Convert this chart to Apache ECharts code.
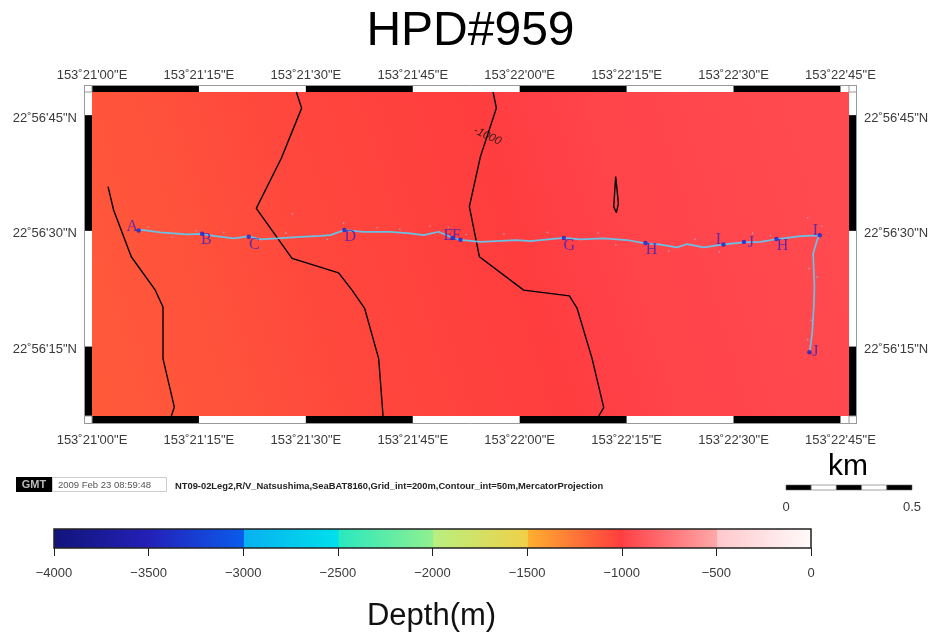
<!DOCTYPE html>
<html>
<head>
<meta charset="utf-8">
<style>html,body{margin:0;padding:0;background:#fff}#c{width:933px;height:634px}</style>
<script src="https://cdn.jsdelivr.net/npm/echarts@6/dist/echarts.min.js"></script>
</head>
<body>
<div id="c"></div>
<script>
// Axis values are arcseconds past 153deg21'00"E and 22deg56'00"N
const lonTicks = [0, 15, 30, 45, 60, 75, 90, 105];
const lonLabels = ['153˚21\'00"E','153˚21\'15"E','153˚21\'30"E','153˚21\'45"E','153˚22\'00"E','153˚22\'15"E','153˚22\'30"E','153˚22\'45"E'];
const latTicks = [15, 30, 45];
const latLabels = ['22˚56\'15"N','22˚56\'30"N','22˚56\'45"N'];
const lonBands = [[0,15],[30,45],[60,75],[90,105]];
const latBands = [[6,15],[30,45]];

const contourA = [[2.25,35.73],[3.03,32.70],[5.51,26.64],[8.88,22.31],[9.96,20.14],[9.96,13.44],[11.55,7.16],[11.13,6]];
const contourB = [[28.67,48],[29.41,45.91],[26.56,39.42],[23.05,32.92],[28.06,26.43],[34.60,24.56],[36.48,22.31],[38.25,19.94],[40.22,13.44],[40.83,6]];
const contourC = [[56.27,48],[56.73,45.91],[54.49,39.62],[52.94,33.13],[54.35,26.64],[60.56,22.31],[66.97,21.57],[68.06,19.94],[70.16,13.44],[71.79,7.08],[71.09,6]];
const contourD = [[73.47,37.03],[73.85,33.57],[73.57,32.35],[73.19,33.13],[73.47,37.03]];
const contourLabel = [[55.47,42.31,'-1000']];

const track = [[6.54,30.10],[7.24,30.10],[9.58,29.81],[13.33,29.55],[15.44,29.62],[17.06,29.36],[19.87,29.03],[21.97,29.29],[23.62,28.90],[25.96,29.03],[29.23,29.23],[32.04,29.36],[33.44,29.45],[35.40,30.10],[38.11,29.88],[41.86,29.88],[44.66,29.68],[46.53,29.45],[48.63,29.88],[50.74,29.03],[51.68,28.84],[54.49,28.58],[59.64,28.81],[61.50,28.68],[66.17,29.10],[68.52,28.90],[71.79,29.03],[75.07,28.81],[77.64,28.38],[79.28,28.29],[82.09,27.86],[83.49,28.29],[85.82,27.86],[88.63,28.25],[91.43,28.51],[93.78,28.58],[96.12,28.94],[99.39,29.32],[102.10,29.42],[101.73,28.81],[101.17,27.08],[101.35,22.74],[101.26,20.14],[101.03,16.69],[100.69,14.30]];
const trackSpecks = [[7.9,30.5],[11.2,29.2],[14.6,30.0],[18.5,29.8],[27.2,29.7],[28.1,32.2],[33.0,28.9],[35.3,31.0],[40.0,30.4],[43.2,30.2],[47.4,30.6],[50.0,30.5],[52.5,29.5],[57.8,29.6],[63.9,29.8],[71.0,29.7],[73.5,28.2],[80.9,27.4],[84.6,28.9],[88.0,27.3],[92.7,29.7],[95.2,29.4],[100.4,31.7],[102.4,30.6],[100.6,25.1],[101.7,24.0],[100.9,18.4],[100.4,15.9]];
const sampleDots = [[6.54,30.06],[15.44,29.62],[22.0,29.22],[35.4,30.1],[50.56,29.06],[51.68,28.84],[66.2,29.06],[77.64,28.42],[88.58,28.22],[91.46,28.55],[96.02,28.94],[102.1,29.42],[100.65,14.26]];
const sampleLabels = [[5.65,30.56,'A'],[16.04,28.81,'B'],[22.77,28.22,'C'],[36.25,29.26,'D'],[50.0,29.39,'E'],[51.12,29.32,'F'],[66.97,28.03,'G'],[78.48,27.57,'H'],[87.88,28.81,'I'],[92.44,28.42,'J'],[96.86,28.09,'H'],[101.49,29.97,'I'],[101.49,14.26,'J']];

const depthLon = [-8, 0, 15, 30, 45, 60, 68, 75, 90, 106, 114];
const depthVal = [-1130, -1122, -1090, -1050, -1025, -1005, -998, -985, -965, -950, -948];

// Colour palette segments of the depth scale
const cptStart = [-4000,-3500,-3000,-2500,-2000,-1500,-1000,-500];
const cptEnd   = [-3500,-3000,-2500,-2000,-1500,-1000,-500,0];
const cptFrom  = ['#12147a','#2420b8','#08b0f0','#28e8c0','#b8f080','#ffb030','#ff4046','#ffc8cc'];
const cptTo    = ['#2420b8','#0a5cec','#00e0ec','#90f090','#f0d048','#ff3c3e','#ffa8a8','#fffafa'];
const colorTicks = [-4000,-3500,-3000,-2500,-2000,-1500,-1000,-500,0];

const scaleStart = [0,0.1,0.2,0.3,0.4];
const scaleEnd   = [0.1,0.2,0.3,0.4,0.5];

const FONT = '"Liberation Sans", Arial, sans-serif';
const TXT = '#3a3a3a';

function hex(c){return [1,3,5].map(i=>parseInt(c.substr(i,2),16));}
function depthColor(d){
  let i = cptStart.findIndex((s,k)=>d>=s && d<cptEnd[k]);
  if(i<0) i = cptStart.length-1;
  const t=(d-cptStart[i])/(cptEnd[i]-cptStart[i]), a=hex(cptFrom[i]), b=hex(cptTo[i]);
  return 'rgb('+a.map((v,k)=>Math.round(v+(b[k]-v)*t)).join(',')+')';
}

const chart = echarts.init(document.getElementById('c'), null, {renderer:'canvas'});
const plain = {animation:false, silent:true};
const lineStyleBlack = {color:'#000', width:1.4};
function contour(d){return Object.assign({type:'line',data:d,symbol:'none',z:3,lineStyle:lineStyleBlack,xAxisIndex:0,yAxisIndex:0},plain);}
const latLabelStyle = {customValues:latTicks,margin:15,verticalAlign:'top',lineHeight:6,fontFamily:FONT,fontSize:13,color:TXT,formatter:v=>latLabels[latTicks.indexOf(v)]};

chart.setOption({
  animation:false,
  backgroundColor:'#fff',
  grid:[
    {left:92,top:92,width:757,height:324},
    {left:54,top:529,width:757,height:19},
    {left:786,top:485,width:126,height:5}
  ],
  xAxis:[
    {gridIndex:0,type:'value',min:0,max:106.2,position:'bottom',splitLine:{show:false},axisLine:{show:false},axisTick:{show:false},
     axisLabel:{customValues:lonTicks,margin:18,fontFamily:FONT,fontSize:13,color:TXT,formatter:v=>lonLabels[lonTicks.indexOf(v)]}},
    {gridIndex:0,type:'value',min:0,max:106.2,position:'top',splitLine:{show:false},axisLine:{show:false},axisTick:{show:false},
     axisLabel:{customValues:lonTicks,margin:10,fontFamily:FONT,fontSize:13,color:TXT,formatter:v=>lonLabels[lonTicks.indexOf(v)]}},
    {gridIndex:1,type:'value',min:-4000,max:0,interval:500,position:'bottom',splitLine:{show:false},
     axisLine:{show:false},axisTick:{show:true,length:8,lineStyle:{color:'#222',width:1}},
     axisLabel:{margin:19,fontFamily:FONT,fontSize:13,color:TXT,formatter:v=>String(v).replace('-','\u2212')}},
    {gridIndex:2,type:'value',min:0,max:0.5,position:'bottom',splitLine:{show:false},axisLine:{show:false},
     axisTick:{show:false},axisLabel:{customValues:[0,0.5],margin:11,fontFamily:FONT,fontSize:13,color:TXT,formatter:v=>String(v)}}
  ],
  yAxis:[
    {gridIndex:0,type:'value',min:6,max:48,position:'left',splitLine:{show:false},axisLine:{show:false},axisTick:{show:false},axisLabel:latLabelStyle},
    {gridIndex:0,type:'value',min:6,max:48,position:'right',splitLine:{show:false},axisLine:{show:false},axisTick:{show:false},axisLabel:latLabelStyle},
    {gridIndex:1,type:'value',min:0,max:1,show:false},
    {gridIndex:2,type:'value',min:0,max:1,show:false}
  ],
  series:[
    // depth shading of the map
    Object.assign({type:'custom',xAxisIndex:0,yAxisIndex:0,z:1,clip:false,data:[[0,6]],
      renderItem(params,api){
        const cs=params.coordSys, ymid=cs.y+cs.height/2;
        const x0=api.coord([depthLon[0],27])[0], x1=api.coord([depthLon[depthLon.length-1],27])[0], L=x1-x0, k=0.3, n=1+k*k;
        const stops=[];
        depthVal.forEach((d,i)=>{
          const t=(depthLon[i]-depthLon[0])/(depthLon[depthLon.length-1]-depthLon[0]);
          stops.push({offset:t,color:depthColor(d)});
        });
        return {type:'rect',shape:{x:cs.x,y:cs.y,width:cs.width,height:cs.height},
          style:{fill:new echarts.graphic.LinearGradient(x0,ymid,x0+L/n,ymid-k*L/n,stops,true)}};
      }},plain),
    contour(contourA),contour(contourB),contour(contourC),contour(contourD),
    // depth label on contour
    Object.assign({type:'scatter',xAxisIndex:0,yAxisIndex:0,z:4,symbolSize:0,data:contourLabel,
      label:{show:true,position:'inside',rotate:-25,fontFamily:FONT,fontSize:11.5,fontStyle:'italic',color:'#111',formatter:p=>p.value[2]}},plain),
    // dive track
    Object.assign({type:'scatter',xAxisIndex:0,yAxisIndex:0,z:5,data:trackSpecks,symbolSize:1.6,itemStyle:{color:'#8cc8e4',opacity:0.7}},plain),
    Object.assign({type:'line',xAxisIndex:0,yAxisIndex:0,z:5,data:track,symbol:'none',lineStyle:{color:'#6cc0e6',width:1.7}},plain),
    Object.assign({type:'scatter',xAxisIndex:0,yAxisIndex:0,z:6,data:sampleDots,symbolSize:4.5,itemStyle:{color:'#1a22c8'}},plain),
    Object.assign({type:'scatter',xAxisIndex:0,yAxisIndex:0,z:7,data:sampleLabels,symbolSize:0,
      label:{show:true,position:'inside',fontFamily:'"Liberation Serif", serif',fontSize:16,color:'#3b22bb',formatter:p=>p.value[2]}},plain),
    // frame bands
    Object.assign({type:'custom',xAxisIndex:0,yAxisIndex:0,z:8,clip:false,data:lonBands,
      renderItem(params,api){
        const a=api.coord([api.value(0),6])[0], b=api.coord([api.value(1),6])[0], cs=params.coordSys;
        return {type:'group',children:[
          {type:'rect',shape:{x:a,y:cs.y-7,width:b-a,height:7},style:{fill:'#000'}},
          {type:'rect',shape:{x:a,y:cs.y+cs.height,width:b-a,height:7},style:{fill:'#000'}}]};
      }},plain),
    Object.assign({type:'custom',xAxisIndex:0,yAxisIndex:0,z:8,clip:false,data:latBands.map(b=>[0,b[0],b[1]]),
      renderItem(params,api){
        const a=api.coord([0,api.value(2)])[1], b=api.coord([0,api.value(1)])[1], cs=params.coordSys;
        return {type:'group',children:[
          {type:'rect',shape:{x:cs.x-8,y:a,width:8,height:b-a},style:{fill:'#000'}},
          {type:'rect',shape:{x:cs.x+cs.width,y:a,width:8,height:b-a},style:{fill:'#000'}}]};
      }},plain),
    // colour bar
    Object.assign({type:'custom',xAxisIndex:2,yAxisIndex:2,z:2,data:cptStart.map((s,i)=>[s,cptEnd[i]]),
      renderItem(params,api){
        const i=params.dataIndex, p=api.coord([api.value(0),1]), q=api.coord([api.value(1),0]);
        const over = i<cptStart.length-1 ? 0.7 : 0;
        return {type:'rect',z2:cptStart.length-i,shape:{x:p[0],y:p[1],width:q[0]-p[0]+over,height:q[1]-p[1]},
          style:{fill:new echarts.graphic.LinearGradient(0,0,1,0,[{offset:0,color:cptFrom[i]},{offset:1,color:cptTo[i]}])}};
      }},plain),
    // km scale bar
    Object.assign({type:'custom',xAxisIndex:3,yAxisIndex:3,z:2,data:scaleStart.map((s,i)=>[s,scaleEnd[i]]),
      renderItem(params,api){
        const p=api.coord([api.value(0),1]), q=api.coord([api.value(1),0]);
        return {type:'rect',shape:{x:p[0],y:p[1],width:q[0]-p[0],height:q[1]-p[1]},
          style:{fill:params.dataIndex%2?'#fff':'#000',stroke:'#666',lineWidth:0.6}};
      }},plain)
  ],
  graphic:{elements:[
    {type:'rect',z:20,silent:true,shape:{x:84.5,y:85.5,width:772,height:338},style:{fill:'none',stroke:'#999',lineWidth:1}},
    {type:'rect',z:20,silent:true,shape:{x:84.5,y:85.5,width:7.5,height:6.5},style:{fill:'none',stroke:'#999',lineWidth:1}},
    {type:'rect',z:20,silent:true,shape:{x:849,y:85.5,width:7.5,height:6.5},style:{fill:'none',stroke:'#999',lineWidth:1}},
    {type:'rect',z:20,silent:true,shape:{x:84.5,y:416,width:7.5,height:7.5},style:{fill:'none',stroke:'#999',lineWidth:1}},
    {type:'rect',z:20,silent:true,shape:{x:849,y:416,width:7.5,height:7.5},style:{fill:'none',stroke:'#999',lineWidth:1}},
    {type:'rect',z:20,silent:true,shape:{x:54,y:529,width:757,height:19},style:{fill:'none',stroke:'#222',lineWidth:1.5}},
    {type:'text',z:20,silent:true,x:470.5,y:32,style:{text:'HPD#959',font:'48px '+FONT,fill:'#000',textAlign:'center',textVerticalAlign:'middle'}},
    {type:'text',z:20,silent:true,x:848,y:467,style:{text:'km',font:'30px '+FONT,fill:'#000',textAlign:'center',textVerticalAlign:'middle'}},
    {type:'text',z:20,silent:true,x:431.5,y:616,style:{text:'Depth(m)',font:'31px '+FONT,fill:'#111',textAlign:'center',textVerticalAlign:'middle'}},
    {type:'rect',z:20,silent:true,shape:{x:16,y:477,width:36,height:15},style:{fill:'#000'}},
    {type:'text',z:20,silent:true,x:34,y:485,style:{text:'GMT',font:'bold 11px '+FONT,fill:'#bbb',textAlign:'center',textVerticalAlign:'middle'}},
    {type:'rect',z:20,silent:true,shape:{x:52.5,y:477.5,width:114,height:14},style:{fill:'#fff',stroke:'#ccc',lineWidth:1}},
    {type:'text',z:21,silent:true,x:58,y:485,style:{text:'2009 Feb 23 08:59:48',font:'9.5px '+FONT,fill:'#555',textAlign:'left',textVerticalAlign:'middle'}},
    {type:'text',z:20,silent:true,x:175,y:486,style:{text:'NT09-02Leg2,R/V_Natsushima,SeaBAT8160,Grid_int=200m,Contour_int=50m,MercatorProjection',font:'bold 9.35px '+FONT,fill:'#222',textAlign:'left',textVerticalAlign:'middle'}}
  ]}
});
</script>
</body>
</html>
